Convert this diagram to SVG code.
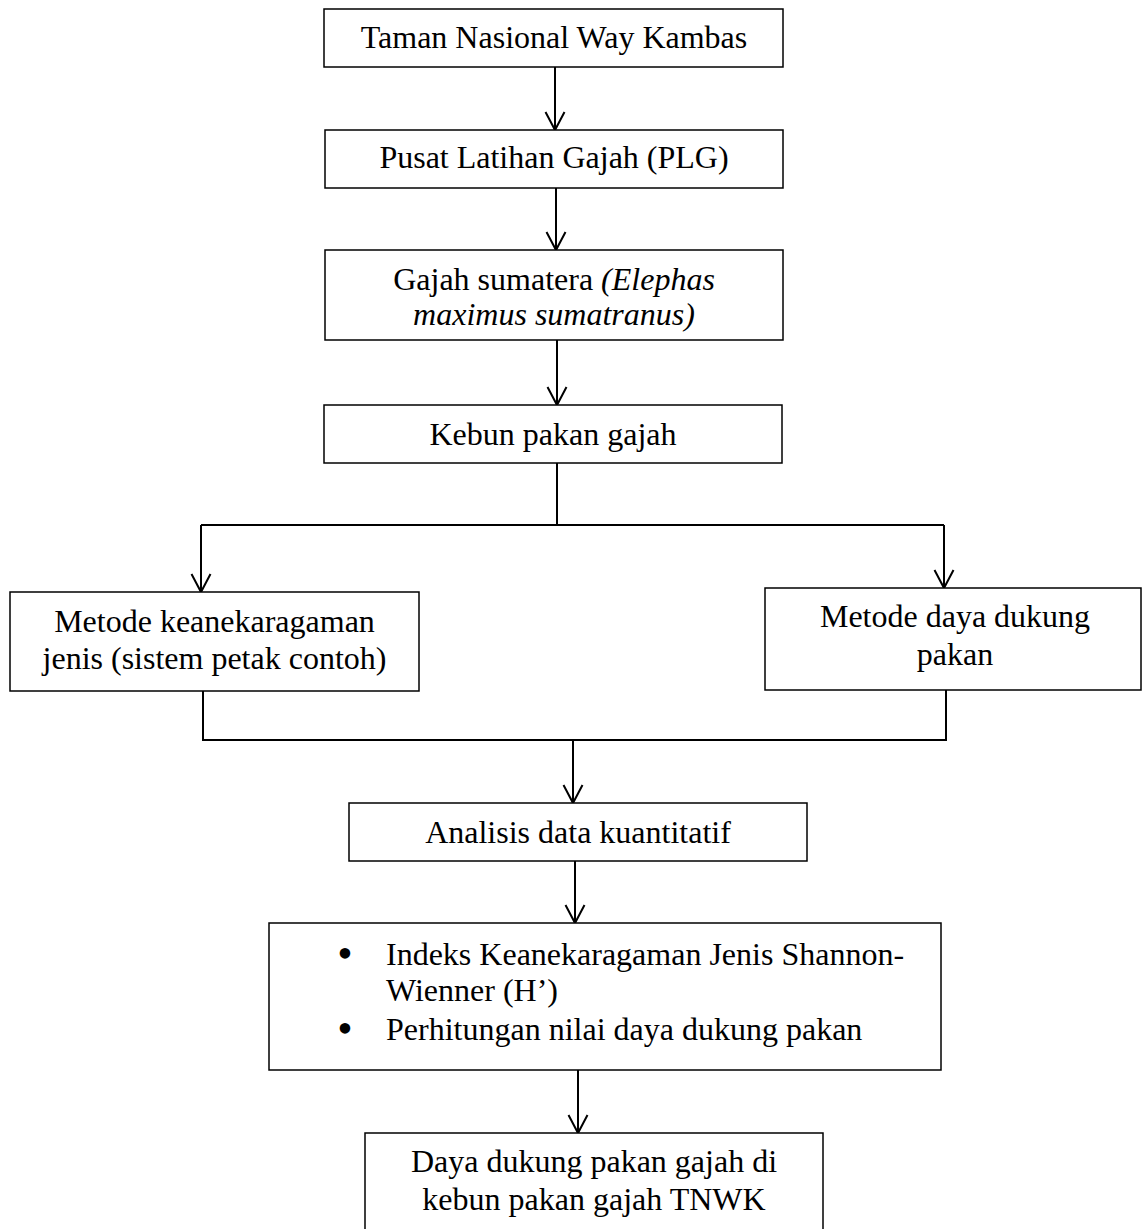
<svg xmlns="http://www.w3.org/2000/svg" width="1142" height="1229" viewBox="0 0 1142 1229">
<style>
.box{fill:#fff;stroke:#000;stroke-width:1.5}
.t{font-family:"Liberation Serif","Times New Roman",serif;font-size:32px;fill:#000}
.c{text-anchor:middle}
.i{font-style:italic}
.b{font-size:44px}
.ln{fill:none;stroke:#000;stroke-width:2}
</style>
<defs>
<marker id="ah" markerUnits="userSpaceOnUse" markerWidth="24" markerHeight="24" viewBox="0 0 24 24" refX="21" refY="12" orient="auto">
<path d="M3,2.5 L21,12 L3,21.5" fill="none" stroke="#000" stroke-width="2"/>
</marker>
</defs>
<rect width="1142" height="1229" fill="#fff"/>
<g id="connectors">
<line class="ln" x1="555" y1="67" x2="555" y2="130" marker-end="url(#ah)"/>
<line class="ln" x1="556" y1="188" x2="556" y2="250" marker-end="url(#ah)"/>
<line class="ln" x1="557" y1="340" x2="557" y2="405" marker-end="url(#ah)"/>
<polyline class="ln" points="557,463 557,525"/>
<polyline class="ln" points="201,525 944,525"/>
<line class="ln" x1="201" y1="525" x2="201" y2="592" marker-end="url(#ah)"/>
<line class="ln" x1="944" y1="525" x2="944" y2="588" marker-end="url(#ah)"/>
<polyline class="ln" points="203,691 203,740 946,740 946,690"/>
<line class="ln" x1="573" y1="740" x2="573" y2="803" marker-end="url(#ah)"/>
<line class="ln" x1="575" y1="861" x2="575" y2="923" marker-end="url(#ah)"/>
<line class="ln" x1="578" y1="1070" x2="578" y2="1133" marker-end="url(#ah)"/>
</g>
<g id="n1">
<rect class="box" x="324" y="9" width="459" height="58"/>
<text class="t c" x="554" y="48">Taman Nasional Way Kambas</text>
</g>
<g id="n2">
<rect class="box" x="325" y="130" width="458" height="58"/>
<text class="t c" x="554" y="168">Pusat Latihan Gajah (PLG)</text>
</g>
<g id="n3">
<rect class="box" x="325" y="250" width="458" height="90"/>
<text class="t c" x="554" y="290">Gajah sumatera <tspan class="i">(Elephas</tspan></text>
<text class="t c i" x="554" y="325">maximus sumatranus)</text>
</g>
<g id="n4">
<rect class="box" x="324" y="405" width="458" height="58"/>
<text class="t c" x="553" y="445">Kebun pakan gajah</text>
</g>
<g id="n5">
<rect class="box" x="10" y="592" width="409" height="99"/>
<text class="t c" x="214.5" y="632">Metode keanekaragaman</text>
<text class="t c" x="214.5" y="669">jenis (sistem petak contoh)</text>
</g>
<g id="n6">
<rect class="box" x="765" y="588" width="376" height="102"/>
<text class="t c" x="955" y="627">Metode daya dukung</text>
<text class="t c" x="955" y="665">pakan</text>
</g>
<g id="n7">
<rect class="box" x="349" y="803" width="458" height="58"/>
<text class="t c" x="578" y="843">Analisis data kuantitatif</text>
</g>
<g id="n8">
<rect class="box" x="269" y="923" width="672" height="147"/>
<text class="t c b" x="345" y="968">•</text>
<text class="t" x="386" y="965">Indeks Keanekaragaman Jenis Shannon-</text>
<text class="t" x="386" y="1001">Wienner (H’)</text>
<text class="t c b" x="345" y="1043">•</text>
<text class="t" x="386" y="1040">Perhitungan nilai daya dukung pakan</text>
</g>
<g id="n9">
<rect class="box" x="365" y="1133" width="458" height="110"/>
<text class="t c" x="594" y="1172">Daya dukung pakan gajah di</text>
<text class="t c" x="594" y="1210">kebun pakan gajah TNWK</text>
</g>
</svg>
